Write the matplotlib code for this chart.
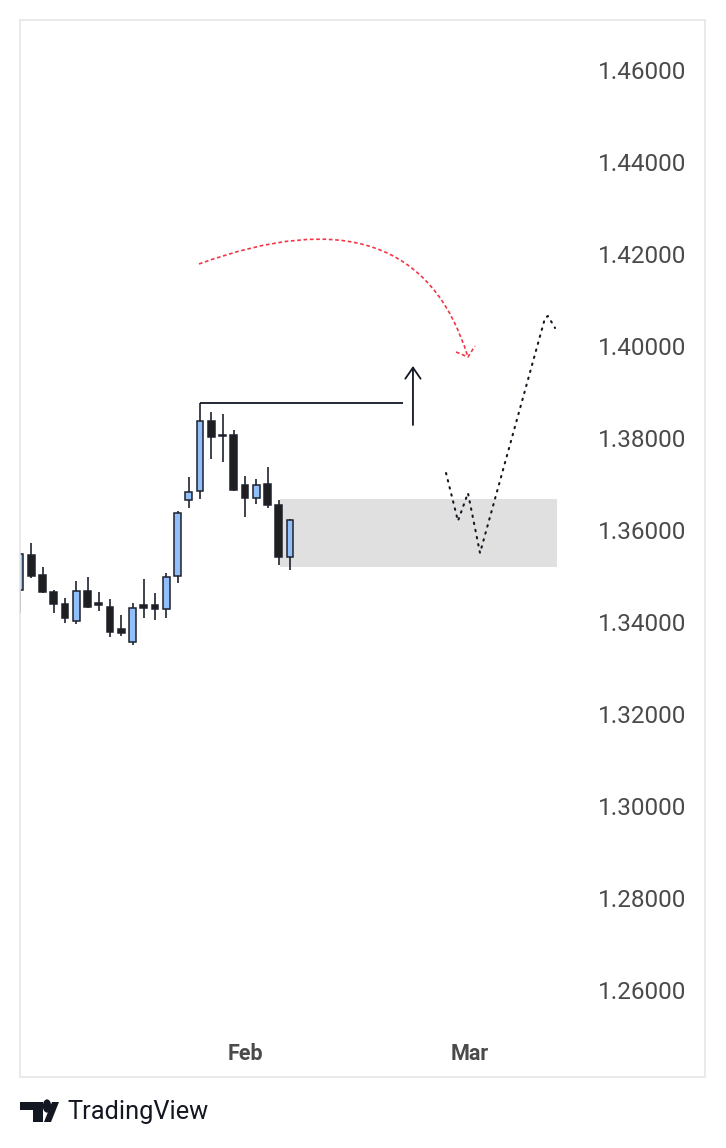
import matplotlib
matplotlib.use("Agg")
import matplotlib.pyplot as plt
from matplotlib.path import Path
from matplotlib.patches import PathPatch, Rectangle, Polygon, Circle

plt.rcParams['font.family'] = ['Roboto', 'DejaVu Sans']

# ---- data (bar index, OHLC) ----
bar_index = list(range(25))
opens = [1.34696, 1.35457, 1.35022, 1.34652, 1.34391, 1.34022, 1.34674, 1.34413,
         1.34326, 1.33848, 1.33565, 1.34370, 1.34370, 1.34283, 1.35000, 1.36652,
         1.36848, 1.38370, 1.38076, 1.38065, 1.36978, 1.36696, 1.37000, 1.36543,
         1.35413]
highs = [1.35500, 1.35717, 1.35196, 1.34696, 1.34522, 1.34891, 1.34978, 1.34652,
         1.34500, 1.34152, 1.34413, 1.34935, 1.34630, 1.35065, 1.36413, 1.37152,
         1.38761, 1.38565, 1.38522, 1.38174, 1.37174, 1.37109, 1.37370, 1.36652,
         1.36239]
lows = [1.34196, 1.34957, 1.34630, 1.34196, 1.33978, 1.33957, 1.34304, 1.34239,
        1.33674, 1.33696, 1.33500, 1.34087, 1.34043, 1.34087, 1.34848, 1.36478,
        1.36674, 1.37543, 1.37478, 1.36848, 1.36283, 1.36565, 1.36478, 1.35239,
        1.35130]
closes = [1.35478, 1.35000, 1.34652, 1.34391, 1.34087, 1.34674, 1.34326, 1.34370,
          1.33783, 1.33761, 1.34304, 1.34304, 1.34283, 1.34978, 1.36370, 1.36826,
          1.38370, 1.38022, 1.38033, 1.36870, 1.36696, 1.36978, 1.36543, 1.35413,
          1.36217]

month_ticks = [20, 40]
month_labels = ["Feb", "Mar"]
price_ticks = [1.26, 1.28, 1.30, 1.32, 1.34, 1.36, 1.38, 1.40, 1.42, 1.44, 1.46]

# drawings
zone_x = [23.1, 47.7]
zone_y = [1.35196, 1.36674]
hline_x = [16, 34]
hline_y = 1.38761
up_arrow_x = 34.93
up_arrow_y = [1.38283, 1.39565]
red_curve_x = [15.91, 35.11, 39.82]
red_curve_y = [1.41783, 1.43500, 1.39761]
red_head_x = [38.76, 39.82, 40.44]
red_head_y = [1.39870, 1.39761, 1.40000]
path_x = [37.87, 38.93, 39.82, 40.89, 46.67, 46.93, 47.56]
path_y = [1.37239, 1.36196, 1.36804, 1.35500, 1.40609, 1.40652, 1.40391]

W, H = 726, 1148
fig = plt.figure(figsize=(W / 100, H / 100), dpi=100)
fig.patch.set_facecolor('white')

def fx(px):
    return px / W

def fy(py):
    return 1 - py / H

ax_left, ax_right, ax_top, ax_bottom = 20, 590, 20, 1035
ax = fig.add_axes([fx(ax_left), fy(ax_bottom), (ax_right - ax_left) / W, (ax_bottom - ax_top) / H])
ax.set_facecolor('white')
for s in ax.spines.values():
    s.set_visible(False)

px_per_bar = 11.25
ax.set_xlim(0, (ax_right - ax_left) / px_per_bar)
ax.set_ylim(1.46 - (ax_bottom - 70) / 4600, 1.46 + (70 - ax_top) / 4600)

edge = '#1e222d'
up_fill = '#90bff9'
down_fill = '#1f1f1f'

# zone
ax.add_patch(Rectangle((zone_x[0], zone_y[0]), zone_x[1] - zone_x[0], zone_y[1] - zone_y[0],
                       facecolor='#e0e0e0', edgecolor='none', zorder=1))

# candles
ax.vlines(bar_index, lows, highs, color=edge, lw=1.2, zorder=2)
bottoms = [min(o, c) for o, c in zip(opens, closes)]
heights = [abs(c - o) for o, c in zip(opens, closes)]
colors = [up_fill if c >= o else down_fill for o, c in zip(opens, closes)]
ax.bar(bar_index, heights, bottom=bottoms, width=0.6, color=colors,
       edgecolor=edge, linewidth=1.1, zorder=3)

# horizontal line from high
ax.plot(hline_x, [hline_y, hline_y], color='#131722', lw=1.3, zorder=4, solid_capstyle='butt')

# up arrow
ax.annotate('', xy=(up_arrow_x, up_arrow_y[1]), xytext=(up_arrow_x, up_arrow_y[0]),
            arrowprops=dict(arrowstyle='->,head_length=0.8,head_width=0.55',
                            color='#131722', lw=1.3, shrinkA=0, shrinkB=0), zorder=4)

# red dashed curve
verts = list(zip(red_curve_x, red_curve_y))
curve = Path(verts, [Path.MOVETO, Path.CURVE3, Path.CURVE3])
ax.add_patch(PathPatch(curve, facecolor='none', edgecolor='#f23645', lw=1.2,
                       linestyle=(0, (2.2, 1.6)), zorder=4))
ax.plot(red_head_x, red_head_y, color='#f23645', lw=1.2, linestyle=(0, (2.2, 1.6)), zorder=4)

# dotted projected path
ax.plot(path_x, path_y, color='#131722', lw=1.5, linestyle=(0, (0.7, 2.8)),
        dash_capstyle='round', zorder=4)

# ticks
ax.yaxis.tick_right()
ax.set_yticks(price_ticks)
ax.set_yticklabels([f"{v:.5f}" for v in price_ticks], fontsize=17.5, color='#4a4a4a')
ax.tick_params(axis='y', length=0, pad=6)
ax.set_xticks(month_ticks)
ax.set_xticklabels(month_labels, fontsize=15.5, fontweight='bold', color='#4a4a4a')
ax.tick_params(axis='x', length=0, pad=6)

# outer frame
fig.patches.append(Rectangle((fx(20), fy(1077)), (705 - 20) / W, (1077 - 20) / H,
                             transform=fig.transFigure, facecolor='none',
                             edgecolor='#e6e6e6', lw=1.2, zorder=0))

# TradingView logo
logo_col = '#131722'
tpoly = [(20, 1102), (43, 1102), (43, 1122), (33, 1122), (33, 1110), (20, 1110)]
fig.patches.append(Polygon([(fx(x), fy(y)) for x, y in tpoly], closed=True,
                           transform=fig.transFigure, facecolor=logo_col, edgecolor='none'))
slash = [(44, 1122), (51, 1122), (59, 1102), (52, 1102)]
fig.patches.append(Polygon([(fx(x), fy(y)) for x, y in slash], closed=True,
                           transform=fig.transFigure, facecolor=logo_col, edgecolor='none'))
fig.patches.append(Circle((fx(47), fy(1106)), 4.2 / W, transform=fig.transFigure,
                          facecolor=logo_col, edgecolor='none'))
fig.text(fx(67), fy(1112), "TradingView", fontsize=18.3, color=logo_col, va='center', ha='left')

fig.savefig('out.png', dpi=100, facecolor='white')
